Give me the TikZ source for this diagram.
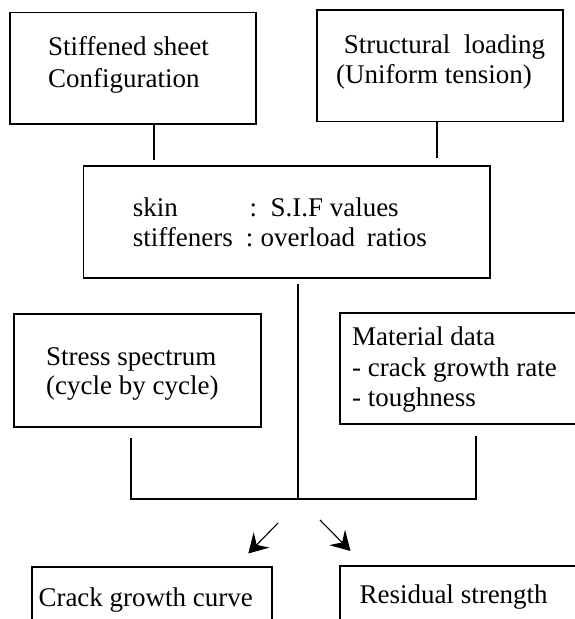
\documentclass[tikz,border=0pt]{standalone}
\usepackage{fontspec}
\setmainfont{Liberation Serif}
\usetikzlibrary{arrows.meta}
\begin{document}
\begin{tikzpicture}[x=1pt,y=-1pt,
  box/.style={draw, line width=1.1pt, rectangle, inner sep=0pt},
  lbl/.style={anchor=base west, inner sep=0pt, font=\fontsize{27}{31}\selectfont},
  lble/.style={anchor=base east, inner sep=0pt, font=\fontsize{27}{31}\selectfont},
  link/.style={line width=1.1pt},
  arr/.style={line width=1.1pt, -{Stealth[length=19pt,width=22pt,inset=7pt]}}]
\useasboundingbox (0,0) rectangle (575,619);
\clip (0,0) rectangle (575,619);

% boxes
\node[box, minimum width=246pt, minimum height=111.5pt] (b1) at (133,68.25) {};
\node[box, minimum width=246pt, minimum height=111.5pt] (b2) at (440,65.75) {};
\node[box, minimum width=406.5pt, minimum height=112pt] (b3) at (286.75,222) {};
\node[box, minimum width=247pt, minimum height=113pt] (b4) at (137.5,370.5) {};
\node[box, minimum width=250pt, minimum height=111pt] (b5) at (465,368.5) {};
\node[box, minimum width=240pt, minimum height=74pt] (b6) at (152,604) {};
\node[box, minimum width=250pt, minimum height=74pt] (b7) at (465,603) {};

% texts
\node[lbl] (t1a) at (48,55) {Stiffened sheet};
\node[lbl] (t1b) at (48,87) {Configuration};
\node[lbl] (t2a) at (343.6,53.3) {Structural};
\node[lble] (t2b) at (545.3,53.3) {loading};
\node[lbl] (t2c) at (336,83.3) {(Uniform tension)};
\node[lbl] (t3a) at (132.7,216) {skin};
\node[lbl] (t3b) at (249.4,216) {:};
\node[lbl] (t3c) at (270.3,216) {S.I.F values};
\node[lbl] (t3d) at (132.7,246.7) {stiffeners};
\node[lbl] (t3e) at (245.7,246.7) {:};
\node[lbl] (t3f) at (260.4,246.7) {overload};
\node[lble] (t3g) at (427,246.7) {ratios};
\node[lbl] (t4a) at (46,365) {Stress spectrum};
\node[lbl] (t4b) at (46,394) {(cycle by cycle)};
\node[lbl] (t5a) at (352,345) {Material data};
\node[lbl] (t5b) at (352,376) {- crack growth rate};
\node[lbl] (t5c) at (352,406) {- toughness};
\node[lbl] (t6) at (38.3,606.7) {Crack growth curve};
\node[lbl] (t7) at (359.3,603.3) {Residual strength};

% connector end points
\coordinate (j1) at (154,160);
\coordinate (j2) at (437,158);
\coordinate (m0) at (298,284);
\coordinate (m1) at (298,499);
\coordinate (l0) at (131,438);
\coordinate (l1) at (131,499);
\coordinate (r0) at (476,436);
\coordinate (r1) at (476,499);
\coordinate (a1s) at (278,523);
\coordinate (a1e) at (248.3,553.5);
\coordinate (a2s) at (320,520);
\coordinate (a2e) at (350.5,551);

% connectors
\draw[link] (b1.south -| j1) -- (j1);
\draw[link] (b2.south -| j2) -- (j2);
\draw[link] (m0) -- (m1);
\draw[link] (l0) -- (l1) -- (r1) -- (r0);
\draw[arr] (a1s) -- (a1e);
\draw[arr] (a2s) -- (a2e);
\end{tikzpicture}
\end{document}
